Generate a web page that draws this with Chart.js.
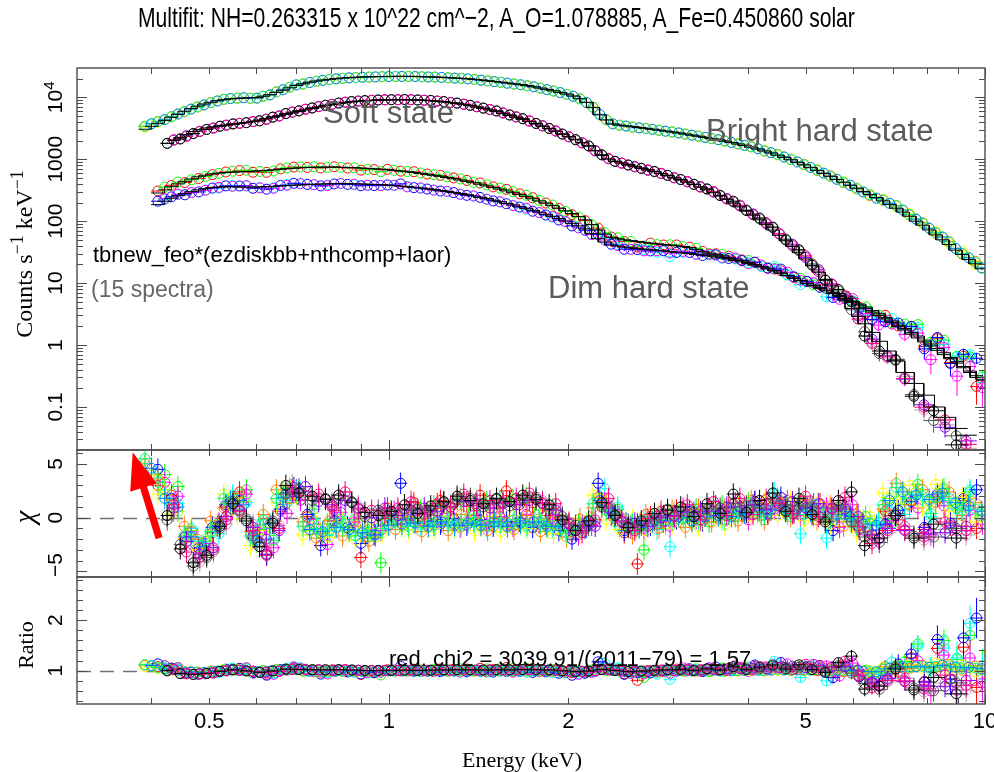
<!DOCTYPE html>
<html>
<head>
<meta charset="utf-8">
<script src="https://cdn.jsdelivr.net/npm/chart.js@4.4.1/dist/chart.umd.min.js"></script>
<style>
  html, body { margin: 0; padding: 0; background: #fff; }
  #wrap { position: relative; width: 994px; height: 772px; overflow: hidden; background: #fff; }
  canvas { position: absolute; left: 0; top: 0; }
  .t { position: absolute; white-space: nowrap; line-height: 1; }
  .sans { font-family: "Liberation Sans", Arial, Helvetica, sans-serif; }
  .serif { font-family: "Liberation Serif", "Times New Roman", serif; }
  .rot { transform: translate(-50%, -50%) rotate(-90deg); }
  sup { font-size: 0.75em; line-height: 0; vertical-align: 0.5em; }
</style>
</head>
<body>
<div id="wrap">
  <canvas id="cCounts" width="994" height="772"></canvas>
  <canvas id="cChi" width="994" height="772"></canvas>
  <canvas id="cRatio" width="994" height="772"></canvas>

  <div class="t sans" id="title" style="left:138px; top:4.3px; font-size:28px; transform-origin:0 0;">Multifit: NH=0.263315 x 10^22 cm^−2, A_O=1.078885, A_Fe=0.450860 solar</div>

  <div class="t sans" style="left:323px; top:96.8px; font-size:31px; color:#5c5c5c;">Soft state</div>
  <div class="t sans" style="left:706px; top:114.8px; font-size:31px; color:#5c5c5c;">Bright hard state</div>
  <div class="t sans" style="left:548px; top:271.8px; font-size:31px; color:#5c5c5c;">Dim hard state</div>
  <div class="t sans" style="left:93px; top:244.4px; font-size:22px; color:#000;">tbnew_feo*(ezdiskbb+nthcomp+laor)</div>
  <div class="t sans" style="left:91px; top:277.5px; font-size:23px; color:#666;">(15 spectra)</div>
  <div class="t sans" style="left:389px; top:648.4px; font-size:22px; color:#000;">red. chi2 = 3039.91/(2011−79) = 1.57</div>

  <div class="t serif rot" style="left:24px; top:254px; font-size:24px;">Counts s<sup>−1</sup> keV<sup>−1</sup></div>
  <div class="t serif rot" style="left:24px; top:517px; font-size:29px; font-style:italic;">χ</div>
  <div class="t serif rot" style="left:25.6px; top:645px; font-size:22px;">Ratio</div>
  <div class="t serif" style="left:522px; top:748.6px; font-size:22px; transform:translateX(-50%);">Energy (keV)</div>
</div>

<script>
// ---------------------------------------------------------------------------
// Channel energies (keV). Each state has two binnings (A and B), used by
// different observations of that state.
// ---------------------------------------------------------------------------
const energiesBrightA = [0.400,0.421,0.443,0.466,0.490,0.516,0.543,0.571,0.601,0.632,
  0.665,0.700,0.737,0.775,0.816,0.858,0.903,0.950,1.000,1.052,
  1.107,1.165,1.226,1.290,1.357,1.428,1.503,1.581,1.664,1.751,
  1.842,1.938,2.039,2.146,2.258,2.376,2.500,2.630,2.768,2.912,
  3.064,3.224,3.393,3.570,3.756,3.952,4.159,4.376,4.604,4.845,
  5.098,5.364,5.644,5.939,6.249,6.576,6.919,7.281,7.661,8.061,
  8.482,8.925,9.391,9.880];
const energiesBrightB = [0.390,0.410,0.432,0.454,0.478,0.503,0.529,0.557,0.586,0.616,
  0.648,0.682,0.718,0.756,0.795,0.837,0.880,0.926,0.975,1.026,
  1.079,1.136,1.195,1.258,1.323,1.392,1.465,1.542,1.622,1.707,
  1.796,1.889,1.988,2.092,2.201,2.316,2.437,2.564,2.698,2.839,
  2.987,3.143,3.307,3.480,3.662,3.853,4.054,4.266,4.489,4.723,
  4.970,5.230,5.503,5.790,6.092,6.410,6.745,7.098,7.469,7.859,
  8.269,8.701,9.156,9.634];

const energiesSoftA = [0.425,0.447,0.470,0.495,0.521,0.548,0.577,0.607,0.639,0.672,
  0.707,0.744,0.783,0.824,0.867,0.912,0.960,1.010,1.063,1.118,
  1.176,1.237,1.302,1.370,1.441,1.516,1.595,1.678,1.766,1.858,
  1.955,2.057,2.164,2.277,2.396,2.521,2.652,2.790,2.935,3.088,
  3.249,3.418,3.596,3.783,3.980,4.187,4.405,4.634,4.875,5.129,
  5.396,5.677,5.972,6.283,6.650,7.080,7.600,8.200,8.950];
const energiesSoftB = [0.436,0.458,0.482,0.508,0.534,0.562,0.592,0.623,0.655,0.689,
  0.725,0.763,0.803,0.845,0.889,0.936,0.985,1.036,1.090,1.147,
  1.206,1.269,1.336,1.405,1.478,1.555,1.636,1.721,1.811,1.906,
  2.005,2.110,2.220,2.336,2.458,2.586,2.720,2.862,3.011,3.168,
  3.332,3.506,3.689,3.880,4.083,4.295,4.519,4.754,5.001,5.261,
  5.535,5.823,6.126,6.464,6.862,7.335,7.900,8.570,9.300];

const energiesDimA = [0.410,0.432,0.455,0.480,0.506,0.533,0.562,0.592,0.624,0.658,
  0.693,0.730,0.769,0.810,0.853,0.898,0.945,0.995,1.047,1.102,
  1.160,1.221,1.285,1.352,1.423,1.497,1.575,1.657,1.743,1.834,
  1.929,2.029,2.134,2.245,2.361,2.483,2.612,2.747,2.889,3.038,
  3.195,3.360,3.534,3.717,3.909,4.111,4.323,4.546,4.781,5.028,
  5.288,5.561,5.848,6.150,6.468,6.802,7.153,7.523,7.912,8.321,
  8.751,9.203,9.679];
const energiesDimB = [0.421,0.443,0.467,0.493,0.519,0.547,0.577,0.608,0.641,0.675,
  0.711,0.749,0.789,0.831,0.875,0.921,0.970,1.021,1.074,1.131,
  1.190,1.253,1.318,1.387,1.460,1.536,1.616,1.700,1.788,1.881,
  1.978,2.081,2.189,2.302,2.421,2.547,2.679,2.818,2.963,3.116,
  3.277,3.446,3.624,3.812,4.009,4.216,4.434,4.662,4.903,5.157,
  5.423,5.703,5.997,6.307,6.633,6.976,7.337,7.716,8.114,8.534,
  8.975,9.439,9.900];

// ---------------------------------------------------------------------------
// Folded model count rates (counts s^-1 keV^-1) on each binning
// ---------------------------------------------------------------------------
const modelBrightA = [3400,4200,5300,6600,7800,8800,9400,9700,9900,11000,
  13000,15500,17500,19000,20000,20800,21300,21600,21700,21800,
  21700,21400,21000,20500,19900,19000,18000,17000,16000,14800,
  13400,12000,10500,8300,5200,3700,3450,3250,3050,2850,
  2650,2450,2250,2060,1860,1660,1460,1260,1070,890,
  730,590,470,380,300,240,185,140,100,72,
  50,34,24,17];
const modelBrightB = [3050,3800,4750,5950,7200,8300,9100,9550,9800,10400,
  12000,14200,16500,18300,19500,20400,21000,21450,21650,21750,
  21750,21550,21200,20750,20200,19450,18500,17500,16500,15400,
  14100,12700,11300,9500,6800,4300,3550,3350,3150,2950,
  2750,2550,2350,2150,1960,1760,1560,1360,1160,980,
  810,660,530,425,340,270,212,162,120,86,
  60,42,29,20.5];

const modelSoftA = [1800,2250,2800,3200,3450,3650,3900,4300,4800,5300,
  5900,6600,7300,7900,8400,8800,9000,9100,9100,9000,
  8800,8400,7900,7300,6600,5900,5100,4400,3700,3100,
  2550,2100,1650,1150,920,820,720,630,540,460,
  390,320,255,195,145,105,72,48,31,19,
  11.5,6.8,3.9,2.2,1.15,0.55,0.24,0.10,0.045];
const modelSoftB = [2000,2500,3000,3330,3550,3770,4100,4550,5050,5600,
  6250,6950,7600,8150,8600,8900,9050,9100,9050,8900,
  8600,8150,7600,6950,6250,5500,4750,4050,3400,2820,
  2320,1870,1380,1000,870,770,675,585,500,425,
  355,288,225,170,125,88,59,39,24.5,15,
  9,5.2,2.9,1.6,0.8,0.36,0.155,0.068,0.035];

const modelDimUpperA = [285,360,440,520,580,610,625,640,660,690,
  715,735,745,745,735,720,700,675,645,610,
  570,530,485,440,395,350,308,268,230,195,
  162,133,105,72,55,50,47,44,42,40,
  37.5,32,29,26,23,20,17,14.5,12,10,
  8.5,7.0,5.7,4.6,3.6,2.8,2.1,1.6,1.2,0.88,
  0.63,0.45,0.32];
const modelDimUpperB = [320,400,480,552,598,618,632,650,675,703,
  726,741,746,741,728,710,688,660,628,590,
  550,508,462,418,372,329,288,249,212,178,
  147,119,88,62,52,48.5,45.5,43,41,39,
  35,30.5,27.5,24.5,21.5,18.5,15.8,13.2,11,9.2,
  7.7,6.3,5.1,4.1,3.2,2.45,1.85,1.4,1.04,0.75,
  0.54,0.38,0.28];

const modelDimLowerA = [185,235,280,320,350,360,355,355,360,370,
  380,390,398,402,402,398,392,382,368,352,
  333,312,290,267,243,218,194,171,150,129,
  110,92,75,52,41,38,36,34.5,33,31.5,
  30,28.5,26.5,24.5,22,19.5,17,14.5,12,9.8,
  8.2,6.8,5.5,4.4,3.4,2.65,2.0,1.5,1.12,0.82,
  0.6,0.43,0.3];
const modelDimLowerB = [210,258,300,336,356,358,355,357,365,375,
  385,394,400,402,400,395,387,375,360,343,
  323,301,279,255,231,206,183,161,140,120,
  101,84,63,46,39.5,37,35.2,33.7,32.2,30.7,
  29.2,27.5,25.5,23.2,20.8,18.2,15.8,13.2,10.9,9.0,
  7.5,6.1,4.9,3.9,3.0,2.3,1.75,1.3,0.97,0.7,
  0.51,0.36,0.27];

// ---------------------------------------------------------------------------
// 1-sigma relative errors per channel (percent of the model)
// ---------------------------------------------------------------------------
const relErrBright = [2.2,1.9,1.6,1.4,1.3,1.2,1.1,1.1,1.0,1.0,
  0.9,0.9,0.8,0.8,0.8,0.8,0.8,0.8,0.8,0.8,
  0.8,0.8,0.8,0.8,0.8,0.8,0.8,0.8,0.9,0.9,
  0.9,0.9,1.0,1.0,1.2,1.3,1.3,1.3,1.3,1.4,
  1.4,1.4,1.5,1.5,1.5,1.6,1.6,1.7,1.8,1.9,
  2.0,2.1,2.2,2.4,2.6,2.8,3.0,3.3,3.7,4.1,
  4.6,5.2,5.9,6.6];
const relErrSoft = [2.5,2.0,1.7,1.5,1.4,1.3,1.2,1.2,1.1,1.1,
  1.0,1.0,1.0,1.0,1.0,1.0,1.0,1.0,1.0,1.0,
  1.0,1.0,1.0,1.0,1.1,1.1,1.1,1.2,1.2,1.3,
  1.4,1.5,1.6,1.8,2.0,2.1,2.2,2.3,2.4,2.6,
  2.8,3.0,3.3,3.6,4.0,4.5,5.0,5.8,6.5,7.5,
  8.5,10,12,14,16,18,20,22,24];
const relErrDimUpper = [2.6,2.4,2.2,2.1,2.0,2.0,2.0,2.0,2.0,2.0,
  2.0,2.0,2.0,2.0,2.0,2.0,2.0,2.0,2.0,2.1,
  2.1,2.2,2.2,2.3,2.3,2.4,2.5,2.6,2.7,2.8,
  3.0,3.2,3.4,3.8,4.3,4.4,4.4,4.5,4.5,4.6,
  4.7,4.8,5.0,5.2,5.4,5.7,6.0,6.4,6.8,7.4,
  8.0,8.8,9.6,10.5,11.5,13,15,17,19,22,
  25,29,33];
const relErrDimLower = [3.0,2.8,2.7,2.6,2.6,2.6,2.6,2.6,2.6,2.6,
  2.6,2.6,2.6,2.6,2.6,2.6,2.6,2.7,2.7,2.8,
  2.8,2.9,3.0,3.1,3.2,3.3,3.4,3.6,3.8,4.0,
  4.2,4.5,4.9,5.5,5.9,6.0,6.1,6.2,6.3,6.4,
  6.5,6.6,6.8,7.0,7.3,7.6,8.0,8.5,9.0,9.8,
  10.6,11.5,12.5,13.5,15,17,19,22,25,28,
  32,36,40];

// ---------------------------------------------------------------------------
// Residuals (data - model) / sigma for each of the 15 spectra
// ---------------------------------------------------------------------------
// soft state
const chiSpec01 = [0.2,-2.9,-4.2,-3.5,-0.8,1.3,-0.3,-2.7,-0.5,3.0,
  2.3,2.0,1.7,2.1,1.4,0.5,0.2,0.6,1.2,0.4,
  1.1,1.5,2.0,1.6,1.3,1.8,1.5,2.1,1.7,1.2,
  -0.2,-1.2,-0.3,1.4,0.2,-0.9,-0.3,0.4,0.7,1.0,
  0.1,1.3,0.4,2.2,0.5,1.6,2.3,0.6,1.8,0.3,
  -0.4,1.6,2.4,-2.6,-1.9,0.2,-1.9,-0.6,-1.9];
const chiSpec12 = [0.9,-2.2,-3.4,-2.8,0.1,0.7,-0.9,-2.0,-1.2,2.4,
  2.9,1.5,1.2,1.6,0.9,0.0,0.9,0.2,0.7,0.9,
  0.6,1.0,1.5,1.3,0.9,1.3,1.2,1.6,1.3,0.7,
  -0.6,-0.8,-0.8,0.9,-0.3,-0.5,-0.8,0.0,0.2,0.5,
  0.6,0.6,1.0,1.0,1.2,0.8,1.1,1.5,0.9,1.3,
  0.9,0.8,0.1,-1.6,-1.0,-1.2,-1.5,-1.4,-0.8];
const chiSpec13 = [1.2,-3.2,-3.7,-3.0,-0.2,0.6,-1.2,-3.1,-1.0,2.6,
  2.1,2.2,1.0,2.4,0.8,0.7,0.4,0.9,1.5,0.3,
  1.3,1.0,2.2,1.1,1.6,1.4,1.8,2.3,1.4,1.3,
  -0.5,-1.4,-0.2,1.8,-0.4,-1.2,-0.1,0.6,0.1,1.2,
  -0.2,1.5,0.2,1.8,0.3,1.7,1.3,0.4,2.0,0.1,
  0.8,1.9,-0.8,-2.4,-1.2,-1.1,-1.8,-0.4,-1.2];
const chiSpec14 = [-0.2,-2.5,-4.5,-3.7,-1.0,1.5,-0.1,-2.3,-0.3,2.2,
  2.7,1.6,1.8,1.8,1.5,0.1,0.7,0.3,0.8,0.8,
  0.7,1.4,1.7,1.8,1.0,1.7,1.1,1.8,1.9,0.8,
  0.1,-0.7,-0.7,1.0,0.3,-0.6,-0.7,-0.2,0.8,0.6,
  0.5,0.8,0.9,1.3,1.1,0.9,1.8,1.2,1.1,1.0,
  -0.2,1.0,-0.4,-1.8,-2.3,0.4,-1.7,-1.8,-1.0];
const chiSpec15 = [0.6,-2.6,-4.1,-3.2,-0.6,0.9,-0.6,-2.6,-0.7,3.1,
  2.4,1.9,1.4,2.0,1.1,0.4,0.5,0.7,1.1,0.6,
  0.9,1.2,1.9,1.6,1.2,1.5,1.4,2.0,1.6,0.9,
  -0.4,-1.1,-0.4,1.3,0.0,-0.8,-0.4,0.3,0.5,0.9,
  0.2,1.1,0.7,1.4,0.9,1.3,1.5,0.9,1.5,0.7,
  0.5,1.3,-0.6,-2.1,-1.4,-0.8,-2.1,-1.1,-1.6];
// bright hard state
const chiSpec07 = [3.5,2.2,0.4,-2.0,-3.0,-1.6,2.2,0.3,-2.6,-1.2,
  1.4,2.9,-1.6,-0.7,-1.8,-0.4,-2.1,-1.0,-1.4,0.2,
  -1.1,-0.2,-1.0,0.1,-0.9,-1.2,0.1,-1.3,0.2,-1.0,
  -0.2,-1.5,-0.6,-1.4,2.1,-0.2,-1.1,-0.2,-1.2,0.4,
  -0.6,0.5,-0.8,1.0,-0.7,1.3,0.1,1.4,0.2,1.6,
  -0.3,1.4,-0.6,0.8,-1.3,0.1,2.3,1.7,3.0,1.0,
  3.1,0.6,1.9,-0.4];
const chiSpec08 = [5.0,3.6,1.7,-0.8,-2.0,-0.3,0.9,1.8,-1.3,0.3,
  2.6,1.8,-0.4,-1.9,-0.3,-1.7,-0.8,-2.2,-0.2,-1.1,
  0.1,-1.3,0.2,-1.2,0.3,-0.1,-1.2,0.0,-1.1,0.2,
  -1.3,-0.3,-1.8,-0.1,0.9,1.2,0.1,-1.5,0.3,-1.0,
  0.7,-0.9,0.8,-0.4,0.8,-0.3,1.6,-0.2,1.8,0.1,
  1.3,-0.2,1.1,-0.8,0.3,-1.6,0.8,3.2,1.2,2.6,
  1.4,2.4,0.2,1.4];
const chiSpec09 = [4.0,2.6,0.6,-1.2,-3.2,-0.6,1.2,1.5,-2.3,-0.9,
  2.3,2.2,-1.2,-1.5,-0.8,-1.3,-1.2,-1.8,-0.6,-0.8,
  -0.4,-0.9,-0.3,-0.9,-0.2,-0.8,-0.3,-0.9,-0.6,-0.3,
  -0.9,-1.1,-1.0,-0.6,1.8,0.3,-0.4,-1.0,-0.2,-0.6,
  0.3,-0.4,0.3,0.1,0.3,0.6,0.5,0.9,0.7,1.1,
  0.7,0.4,0.5,-0.3,-0.2,-1.1,1.8,2.2,2.4,1.5,
  2.6,1.2,1.4,0.2];
const chiSpec10 = [5.5,3.3,1.3,-1.7,-2.2,-1.3,1.8,0.7,-1.7,-0.2,
  1.8,2.7,-0.8,-1.0,-1.2,-0.8,-1.7,-1.3,-1.0,-0.3,
  -0.8,-0.5,-0.7,-0.4,-0.6,-0.4,-0.7,-0.5,-0.2,-0.7,
  -0.5,-0.7,-1.4,-1.0,1.3,0.7,-0.8,-0.6,-0.7,-0.1,
  -0.2,0.0,-0.2,0.5,-0.2,0.4,1.0,0.3,1.2,0.5,
  0.3,0.8,-0.1,0.3,-0.7,-0.5,1.2,2.8,1.8,2.0,
  1.9,1.8,0.7,0.8];
const chiSpec11 = [4.6,1.8,1.0,-1.8,-2.7,-0.8,1.5,1.2,-2.1,-0.6,
  1.9,2.6,-1.1,-1.3,-0.9,-1.1,-1.4,-1.6,-0.7,-0.6,
  -0.5,-0.8,-0.4,-0.7,-0.5,-0.7,-0.4,-0.8,-0.5,-0.4,
  -0.8,-0.8,-1.1,-0.9,1.6,0.4,-0.5,-0.9,-0.4,-0.3,
  0.1,-0.3,0.1,0.2,0.1,0.4,0.7,0.7,0.9,0.8,
  0.6,0.5,0.3,0.1,-0.6,-0.7,1.6,2.4,2.1,1.7,
  2.3,1.4,1.1,0.6];
// dim hard state
const chiSpec02 = [3.0,2.1,-2.0,-2.9,-1.4,1.0,2.4,-1.9,-3.5,0.6,
  2.3,0.1,-1.5,0.7,-0.9,-3.7,-1.4,0.9,-0.2,1.4,
  0.5,1.6,1.3,1.5,2.1,0.9,2.5,1.2,1.4,0.2,
  -0.2,-1.3,-0.8,1.9,0.2,-1.4,-4.3,0.1,-0.4,0.7,
  0.2,0.4,0.5,0.9,0.6,1.5,0.3,1.4,0.4,0.9,
  1.3,-0.3,0.9,-1.1,-1.6,0.6,-0.2,1.5,-1.1,2.0,
  -0.7,1.6,-1.0];
const chiSpec03 = [4.0,2.9,-1.2,-2.2,-0.6,1.9,2.6,-1.1,-2.1,1.4,
  1.7,0.8,-0.6,-0.1,-0.2,-1.5,-4.2,0.2,0.5,0.7,
  1.1,0.9,1.8,0.7,1.5,1.6,1.7,1.9,0.7,0.8,
  -0.8,-0.7,-0.2,1.2,0.8,-0.7,-3.0,-0.6,0.3,-0.1,
  0.8,-0.4,1.1,0.1,1.4,0.2,1.6,0.5,1.3,0.2,
  0.5,0.6,0.2,0.1,-0.4,-0.5,1.2,3.1,0.4,2.7,
  0.9,2.4,0.3];
const chiSpec04 = [4.5,1.8,-1.8,-2.8,-0.9,1.2,1.6,-1.7,-3.4,0.8,
  2.8,0.3,-2.6,-0.3,-0.9,-2.4,-1.6,0.2,3.2,-0.4,
  -0.3,-0.6,-0.1,-0.7,-0.2,-0.8,-0.4,-0.3,-0.9,-0.6,
  -1.2,-2.0,-1.0,3.2,0.6,-1.2,-0.6,-0.7,0.2,-0.1,
  0.6,-0.3,1.1,0.3,0.7,1.5,0.4,1.9,0.6,0.9,
  0.4,-1.2,0.6,-0.9,-1.6,-0.6,0.7,1.5,-0.9,2.2,
  -0.5,1.8,2.6];
const chiSpec05 = [2.2,1.3,-1.0,-2.0,-1.5,2.1,1.4,-0.8,-1.9,1.6,
  2.4,-0.3,-1.6,0.1,-1.2,-1.8,-0.8,-0.1,0.4,-0.7,
  -0.5,-0.3,-0.8,-0.4,-0.9,-0.5,-0.6,-0.8,-0.3,-0.9,
  -0.9,-1.4,-0.4,2.7,1.0,-0.8,-0.3,-1.1,-2.7,0.4,
  0.2,0.6,-0.2,1.0,0.4,0.2,2.3,0.3,-1.5,1.2,
  -1.9,0.7,0.1,-0.6,-0.5,1.0,0.3,2.2,0.1,1.6,
  0.8,2.6,-0.2];
const chiSpec06 = [3.3,2.0,-1.3,-2.4,-0.5,0.8,2.2,-1.4,-2.8,0.4,
  1.6,-0.6,-2.5,0.5,-0.4,-1.4,-1.2,0.6,-0.3,0.2,
  -0.7,0.4,-0.9,0.2,-0.6,0.1,-0.8,0.3,-0.5,-0.2,
  -0.6,-1.6,-0.7,1.4,0.3,-0.9,-1.0,-0.2,-0.8,0.9,
  -0.1,0.9,0.2,1.4,-0.2,1.0,0.8,1.6,0.2,1.3,
  0.9,-0.9,1.2,-1.3,-2.0,-0.3,-0.8,0.9,-1.6,1.1,
  -1.2,0.7,-0.6];

// ---------------------------------------------------------------------------
// Axis ticks and labels
// ---------------------------------------------------------------------------
const energyMajorTicks = [1, 10];
const energyMinorTicks = [0.4, 0.5, 0.6, 0.7, 0.8, 0.9, 2, 3, 4, 5, 6, 7, 8, 9];
const energyLabelValues = [0.5, 1, 2, 5, 10];
const energyLabels = ['0.5', '1', '2', '5', '10'];
const countTickValues = [0.1, 1, 10, 100, 1000, 10000];
const countTickLabels = ['0.1', '1', '10', '100', '1000', '10^4'];
const chiTickValues = [-5, 0, 5];
const chiTickLabels = ['−5', '0', '5'];
const ratioTickValues = [1, 2];
const ratioTickLabels = ['1', '2'];

// red arrow pointing at the low-energy residuals (keV, chi)
const arrowFrom = [0.412, -1.9];
const arrowTo = [0.372, 6.1];

// ---------------------------------------------------------------------------
// Spectrum table (listed from top-most drawn to bottom-most)
// ---------------------------------------------------------------------------
const spectra = [
  { color: '#000000', E: energiesSoftA,   model: modelSoftA,     err: relErrSoft,     chi: chiSpec01 },
  { color: '#555555', E: energiesSoftA,   model: modelSoftA,     err: relErrSoft,     chi: chiSpec14 },
  { color: '#ff0080', E: energiesSoftB,   model: modelSoftB,     err: relErrSoft,     chi: chiSpec13 },
  { color: '#8000ff', E: energiesSoftB,   model: modelSoftB,     err: relErrSoft,     chi: chiSpec12 },
  { color: '#aaaaaa', E: energiesSoftB,   model: modelSoftB,     err: relErrSoft,     chi: chiSpec15 },
  { color: '#0080ff', E: energiesBrightA, model: modelBrightA,   err: relErrBright,   chi: chiSpec11 },
  { color: '#00ff80', E: energiesBrightB, model: modelBrightB,   err: relErrBright,   chi: chiSpec10 },
  { color: '#80ff00', E: energiesBrightA, model: modelBrightA,   err: relErrBright,   chi: chiSpec09 },
  { color: '#ff8000', E: energiesBrightB, model: modelBrightB,   err: relErrBright,   chi: chiSpec08 },
  { color: '#ffff00', E: energiesBrightB, model: modelBrightB,   err: relErrBright,   chi: chiSpec07 },
  { color: '#0000ff', E: energiesDimA,    model: modelDimLowerA, err: relErrDimLower, chi: chiSpec04 },
  { color: '#ff00ff', E: energiesDimB,    model: modelDimLowerB, err: relErrDimLower, chi: chiSpec06 },
  { color: '#00ffff', E: energiesDimB,    model: modelDimLowerB, err: relErrDimLower, chi: chiSpec05 },
  { color: '#00ff00', E: energiesDimB,    model: modelDimUpperB, err: relErrDimUpper, chi: chiSpec03 },
  { color: '#ff0000', E: energiesDimA,    model: modelDimUpperA, err: relErrDimUpper, chi: chiSpec02 },
];
const models = [
  { E: energiesSoftA, model: modelSoftA },
  { E: energiesSoftB, model: modelSoftB },
  { E: energiesBrightA, model: modelBrightA },
  { E: energiesBrightB, model: modelBrightB },
  { E: energiesDimA, model: modelDimLowerA },
  { E: energiesDimB, model: modelDimLowerB },
  { E: energiesDimA, model: modelDimUpperA },
  { E: energiesDimB, model: modelDimUpperB },
];

// ---------------------------------------------------------------------------
// Derived quantities
// ---------------------------------------------------------------------------
function binEdges(E) {
  const lo = [], hi = [];
  for (let i = 0; i < E.length; i++) {
    lo.push(i > 0 ? Math.sqrt(E[i - 1] * E[i]) : E[0] * E[0] / Math.sqrt(E[0] * E[1]));
    hi.push(i < E.length - 1 ? Math.sqrt(E[i] * E[i + 1]) : E[i] * E[i] / Math.sqrt(E[i - 1] * E[i]));
  }
  return { lo, hi };
}

const AXIS_COLOR = '#4a4a4a';
const SANS = '"Liberation Sans", Arial, Helvetica, sans-serif';

const countSets = [], chiSets = [], ratioSets = [];
models.forEach(m => {
  const { lo, hi } = binEdges(m.E);
  const steps = [];
  m.model.forEach((v, i) => { steps.push({ x: lo[i], y: v }); steps.push({ x: hi[i], y: v }); });
  countSets.push({ data: steps, showLine: true, borderColor: '#000', borderWidth: 1,
    pointRadius: 0, fill: false, tension: 0, clip: 0 });
});
spectra.forEach(s => {
  const { lo, hi } = binEdges(s.E);
  const xErr = s.E.map((e, i) => [lo[i], hi[i]]);
  const ratio = s.chi.map((c, i) => 1 + c * s.err[i] / 100);
  const counts = s.model.map((m, i) => m * ratio[i]);
  const common = { borderColor: s.color, backgroundColor: 'rgba(0,0,0,0)', pointRadius: 5,
    pointBorderWidth: 1, pointStyle: 'circle', showLine: false, clip: 0, xErr };
  countSets.push(Object.assign({}, common, {
    data: s.E.map((e, i) => ({ x: e, y: counts[i] })),
    yErr: s.model.map((m, i) => [Math.max(counts[i] - m * s.err[i] / 100, 1e-6), counts[i] + m * s.err[i] / 100])
  }));
  chiSets.push(Object.assign({}, common, {
    data: s.E.map((e, i) => ({ x: e, y: s.chi[i] })),
    yErr: s.chi.map(c => [c - 1, c + 1])
  }));
  ratioSets.push(Object.assign({}, common, {
    data: s.E.map((e, i) => ({ x: e, y: ratio[i] })),
    yErr: ratio.map((r, i) => [r - s.err[i] / 100, r + s.err[i] / 100])
  }));
});

// ---------------------------------------------------------------------------
// Plugins: error crosses, framed axes with inward ticks, reference line, arrow
// ---------------------------------------------------------------------------
const errorBars = {
  id: 'errorBars',
  beforeDatasetDraw(chart, args) {
    const ds = chart.data.datasets[args.index];
    if (!ds.xErr) return;
    const { ctx, chartArea: a, scales: { x, y } } = chart;
    ctx.save();
    ctx.beginPath();
    ctx.rect(a.left, a.top, a.right - a.left, a.bottom - a.top);
    ctx.clip();
    ctx.strokeStyle = ds.borderColor;
    ctx.lineWidth = 1;
    ctx.beginPath();
    ds.data.forEach((p, i) => {
      const px = x.getPixelForValue(p.x), py = y.getPixelForValue(p.y);
      ctx.moveTo(x.getPixelForValue(ds.xErr[i][0]), py);
      ctx.lineTo(x.getPixelForValue(ds.xErr[i][1]), py);
      ctx.moveTo(px, y.getPixelForValue(ds.yErr[i][0]));
      ctx.lineTo(px, y.getPixelForValue(ds.yErr[i][1]));
    });
    ctx.stroke();
    ctx.restore();
  }
};

function verticalLabel(ctx, label, baseX, cy, a) {
  const parts = label.split('^');
  ctx.font = '21px ' + SANS;
  const w1 = ctx.measureText(parts[0]).width;
  let w2 = 0;
  if (parts[1]) { ctx.font = '15px ' + SANS; w2 = ctx.measureText(parts[1]).width; }
  const w = w1 + w2;
  const c = Math.min(Math.max(cy, a.top + w / 2), a.bottom - w / 2);
  ctx.save();
  ctx.translate(baseX, c);
  ctx.rotate(-Math.PI / 2);
  ctx.textAlign = 'left';
  ctx.textBaseline = 'alphabetic';
  ctx.font = '21px ' + SANS;
  ctx.fillText(parts[0], -w / 2, 0);
  if (parts[1]) { ctx.font = '15px ' + SANS; ctx.fillText(parts[1], -w / 2 + w1, -8); }
  ctx.restore();
}

const framePlugin = {
  id: 'frame',
  beforeDatasetsDraw(chart, args, o) {
    if (o.refLine === undefined) return;
    const { ctx, chartArea: a, scales: { y } } = chart;
    const py = Math.round(y.getPixelForValue(o.refLine)) + 0.5;
    ctx.save();
    ctx.strokeStyle = '#707070';
    ctx.lineWidth = 1.5;
    ctx.setLineDash([14, 9]);
    ctx.beginPath();
    ctx.moveTo(a.left, py);
    ctx.lineTo(a.right, py);
    ctx.stroke();
    ctx.restore();
  },
  afterDraw(chart, args, o) {
    const { ctx, chartArea: a, scales: { x, y } } = chart;
    ctx.save();
    ctx.strokeStyle = AXIS_COLOR;
    ctx.lineWidth = 1;
    ctx.beginPath();
    const vt = (v, len) => {
      const px = Math.round(x.getPixelForValue(v)) + 0.5;
      ctx.moveTo(px, a.top); ctx.lineTo(px, a.top + len);
      ctx.moveTo(px, a.bottom); ctx.lineTo(px, a.bottom - len);
    };
    const ht = (v, len) => {
      const py = Math.round(y.getPixelForValue(v)) + 0.5;
      if (py < a.top + 1 || py > a.bottom - 1) return;
      ctx.moveTo(a.left, py); ctx.lineTo(a.left + len, py);
      ctx.moveTo(a.right, py); ctx.lineTo(a.right - len, py);
    };
    energyMajorTicks.forEach(v => vt(v, 10));
    energyMinorTicks.forEach(v => vt(v, 6));
    o.yMajor.forEach(v => ht(v, 10));
    o.yMinor.forEach(v => ht(v, 6));
    ctx.stroke();
    ctx.lineWidth = 1.4;
    ctx.strokeRect(a.left, a.top, a.right - a.left, a.bottom - a.top);

    ctx.fillStyle = '#000';
    o.yMajor.forEach((v, i) => verticalLabel(ctx, o.yLabels[i], 62, y.getPixelForValue(v), a));
    if (o.xLabels) {
      ctx.font = '22px ' + SANS;
      ctx.textAlign = 'center';
      ctx.textBaseline = 'alphabetic';
      energyLabelValues.forEach((v, i) => ctx.fillText(energyLabels[i], x.getPixelForValue(v), 728));
    }
    if (o.arrow) {
      const x0 = x.getPixelForValue(arrowFrom[0]), y0 = y.getPixelForValue(arrowFrom[1]);
      const x1 = x.getPixelForValue(arrowTo[0]), y1 = y.getPixelForValue(arrowTo[1]);
      const dx = x1 - x0, dy = y1 - y0, len = Math.hypot(dx, dy);
      const ux = dx / len, uy = dy / len, nx = -uy, ny = ux;
      const head = 37, hw = 14, sw = 3.6;
      const bx = x1 - ux * head, by = y1 - uy * head;
      ctx.fillStyle = '#ff0000';
      ctx.beginPath();
      ctx.moveTo(x0 + nx * sw, y0 + ny * sw);
      ctx.lineTo(bx + nx * sw, by + ny * sw);
      ctx.lineTo(bx + nx * hw, by + ny * hw);
      ctx.lineTo(x1, y1);
      ctx.lineTo(bx - nx * hw, by - ny * hw);
      ctx.lineTo(bx - nx * sw, by - ny * sw);
      ctx.lineTo(x0 - nx * sw, y0 - ny * sw);
      ctx.closePath();
      ctx.fill();
    }
    ctx.restore();
  }
};

// ---------------------------------------------------------------------------
// Minor tick positions
// ---------------------------------------------------------------------------
const countMinor = [];
for (let d = -2; d <= 4; d++) for (let k = 2; k <= 9; k++) countMinor.push(k * Math.pow(10, d));
const chiMinor = [-4, -3, -2, -1, 1, 2, 3, 4, 6];
const ratioMinor = [0.4, 0.6, 0.8, 1.2, 1.4, 1.6, 1.8, 2.2, 2.4, 2.6, 2.8];

// ---------------------------------------------------------------------------
// Charts
// ---------------------------------------------------------------------------
function makeChart(id, datasets, yScale, padTop, padBottom, frameOpts) {
  return new Chart(document.getElementById(id), {
    type: 'scatter',
    data: { datasets },
    options: {
      responsive: false,
      animation: false,
      events: [],
      layout: { padding: { left: 77, right: 9, top: padTop, bottom: padBottom } },
      plugins: { legend: { display: false }, tooltip: { enabled: false }, title: { display: false }, frame: frameOpts },
      scales: {
        x: { type: 'logarithmic', min: 0.3, max: 10, display: false },
        y: Object.assign({ display: false }, yScale)
      }
    },
    plugins: [errorBars, framePlugin]
  });
}

makeChart('cCounts', countSets, { type: 'logarithmic', min: 0.0202, max: 29700 }, 68, 322,
  { yMajor: countTickValues, yLabels: countTickLabels, yMinor: countMinor });
makeChart('cChi', chiSets, { type: 'linear', min: -5.52, max: 6.30 }, 450, 195,
  { yMajor: chiTickValues, yLabels: chiTickLabels, yMinor: chiMinor, refLine: 0, arrow: true });
makeChart('cRatio', ratioSets, { type: 'linear', min: 0.343, max: 2.85 }, 577, 68,
  { yMajor: ratioTickValues, yLabels: ratioTickLabels, yMinor: ratioMinor, refLine: 1, xLabels: true });

// condensed title to its printed width
const title = document.getElementById('title');
title.style.transform = 'scaleX(' + (717 / title.offsetWidth).toFixed(4) + ')';
</script>
</body>
</html>
